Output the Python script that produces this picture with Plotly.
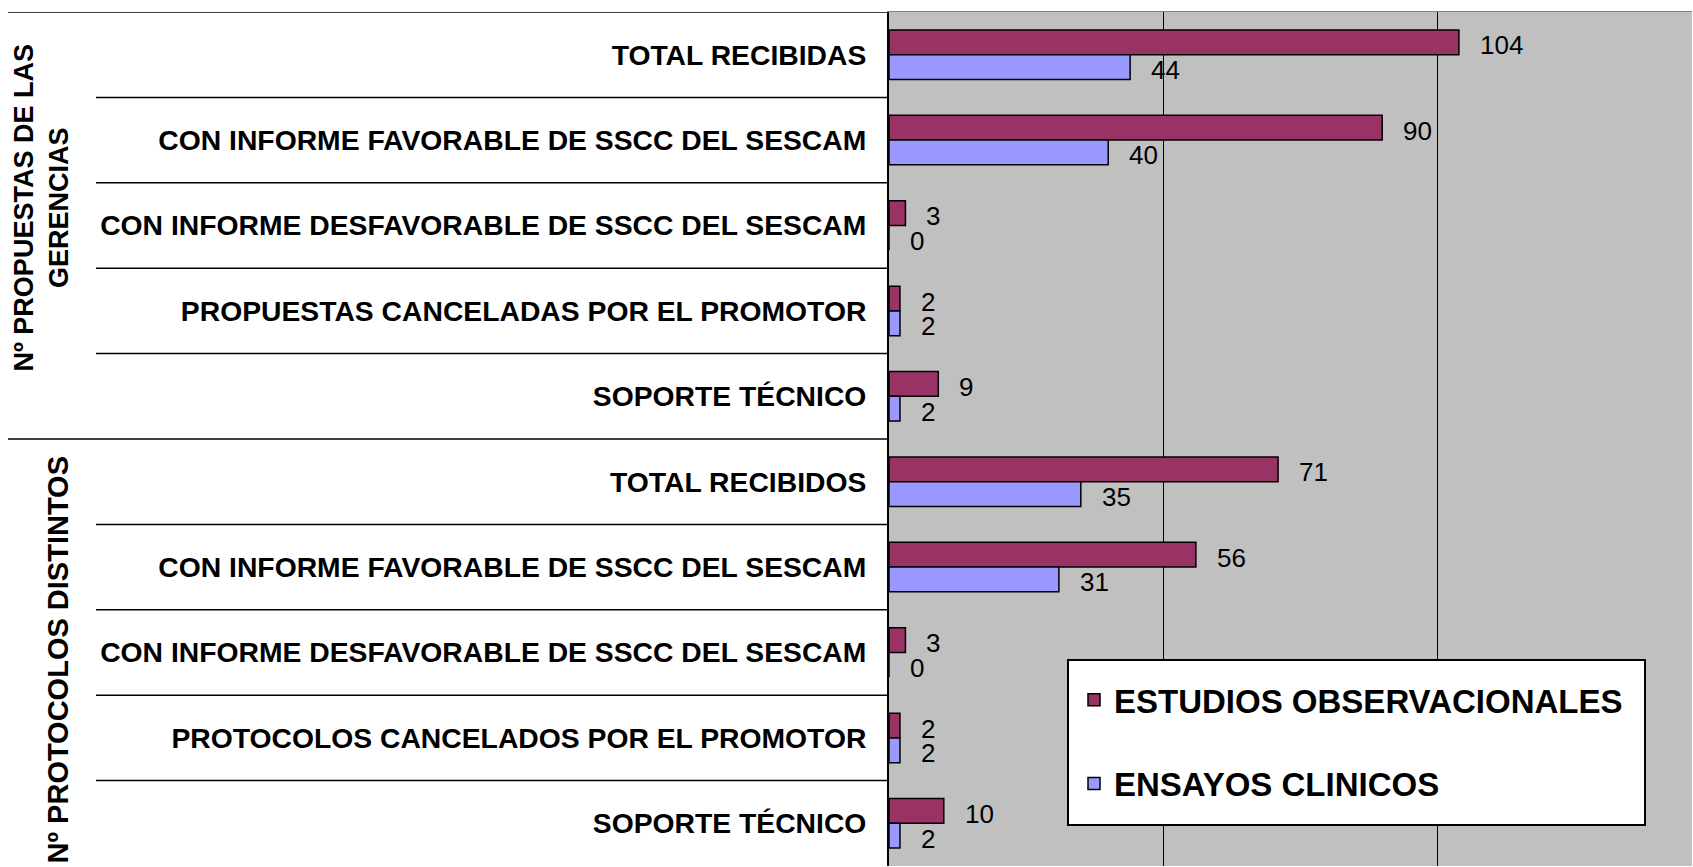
import plotly.graph_objects as go

categories = [
    "TOTAL RECIBIDAS",
    "CON INFORME FAVORABLE DE SSCC DEL SESCAM",
    "CON INFORME DESFAVORABLE DE SSCC DEL SESCAM",
    "PROPUESTAS CANCELADAS POR EL PROMOTOR",
    "SOPORTE TÉCNICO",
    "TOTAL RECIBIDOS",
    "CON INFORME FAVORABLE DE SSCC DEL SESCAM",
    "CON INFORME DESFAVORABLE DE SSCC DEL SESCAM",
    "PROTOCOLOS CANCELADOS POR EL PROMOTOR",
    "SOPORTE TÉCNICO",
]
observacionales = [104, 90, 3, 2, 9, 71, 56, 3, 2, 10]
ensayos = [44, 40, 0, 2, 2, 35, 31, 0, 2, 2]
group_labels = ["Nº PROPUESTAS DE LAS<br>GERENCIAS", "Nº PROTOCOLOS DISTINTOS"]
group_centers = [2, 7]
series_names = ["ESTUDIOS OBSERVACIONALES", "ENSAYOS CLINICOS"]
x_ticks = [50, 100, 150]

W, H = 1693, 867
L, R, T, B = 889, 1, 12, 1
PW = W - L - R
PH = H - T - B

def px_to_paper(px):
    return (px - L) / PW

def py_to_paper(py):
    return (H - B - py) / PH

pos = list(range(len(categories)))
FONT = "Liberation Sans, Arial, sans-serif"
BW = 0.29

fig = go.Figure()
fig.add_trace(go.Bar(
    x=observacionales, y=pos, orientation="h", name=series_names[0],
    width=BW, offset=-BW, legendgroup="a",
    marker=dict(color="#993366", line=dict(color="black", width=1.5)),
    hoverinfo="x",
))
fig.add_trace(go.Bar(
    x=ensayos, y=pos, orientation="h", name=series_names[1],
    width=BW, offset=0, legendgroup="b",
    marker=dict(color="#9999FF", line=dict(color="black", width=1.5)),
    hoverinfo="x",
))

annotations = []
for i, v in enumerate(observacionales):
    annotations.append(dict(x=v, y=pos[i] - BW / 2, xref="x", yref="y", text=str(v),
                            showarrow=False, xanchor="left", yanchor="middle",
                            xshift=19, yshift=-3,
                            font=dict(family=FONT, size=26, color="black")))
for i, v in enumerate(ensayos):
    annotations.append(dict(x=v, y=pos[i] + BW / 2, xref="x", yref="y", text=str(v),
                            showarrow=False, xanchor="left", yanchor="middle",
                            xshift=19, yshift=-3,
                            font=dict(family=FONT, size=26, color="black")))

annotations.append(dict(x=px_to_paper(41), y=group_centers[0], xref="paper", yref="y",
                        text=group_labels[0], textangle=-90, showarrow=False,
                        xanchor="center", yanchor="middle", yshift=17,
                        font=dict(family=FONT, size=27, color="black", weight="bold")))
annotations.append(dict(x=px_to_paper(57), y=group_centers[1], xref="paper", yref="y",
                        text=group_labels[1], textangle=-90, showarrow=False,
                        xanchor="center", yanchor="middle", yshift=-7,
                        font=dict(family=FONT, size=29, color="black", weight="bold")))

shapes = []
for i in range(len(categories) + 1):
    b = i - 0.5
    if b > len(categories) - 1:
        continue
    full = (i % 5 == 0)
    shapes.append(dict(type="line", xref="paper", yref="y",
                       x0=px_to_paper(8 if full else 96), x1=0, y0=b, y1=b,
                       line=dict(color="black", width=1.5)))

# legend frame
shapes.append(dict(type="rect", xref="paper", yref="paper", layer="above",
                   x0=px_to_paper(1068), x1=px_to_paper(1645),
                   y0=py_to_paper(825), y1=py_to_paper(660),
                   fillcolor="white", line=dict(color="black", width=2)))

fig.update_layout(
    width=W, height=H,
    margin=dict(l=L, r=R, t=T, b=B, pad=0),
    paper_bgcolor="white", plot_bgcolor="#C0C0C0",
    barmode="overlay",
    font=dict(family=FONT, color="black"),
    showlegend=True,
    legend=dict(
        x=px_to_paper(1074), y=py_to_paper(660), xanchor="left", yanchor="top",
        bgcolor="rgba(0,0,0,0)", borderwidth=0,
        font=dict(family=FONT, size=33, color="black", weight="bold"),
        traceorder="grouped", tracegroupgap=38,
        title=dict(text=" ", font=dict(size=9)),
    ),
    xaxis=dict(range=[0, 803 / 5.48], tickvals=x_ticks, showticklabels=False,
               showgrid=True, gridcolor="black", gridwidth=1, zeroline=False,
               side="top", showline=True, linecolor="#808080", linewidth=1,
               ticks=""),
    yaxis=dict(range=[len(categories) - 0.5, -0.5], tickvals=pos, ticktext=categories,
               showgrid=False, zeroline=False, showline=True, linecolor="black",
               linewidth=2, ticks="", ticklabelstandoff=15,
               tickfont=dict(family=FONT, size=28.3, color="black", weight="bold")),
    annotations=annotations,
    shapes=shapes,
)

fig.write_html("out.html")
